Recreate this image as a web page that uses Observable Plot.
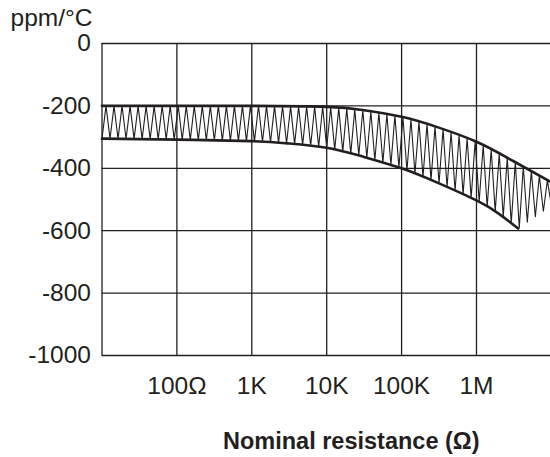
<!DOCTYPE html>
<html>
<head>
<meta charset="utf-8">
<script src="https://cdn.jsdelivr.net/npm/d3@7"></script>
<script src="https://cdn.jsdelivr.net/npm/@observablehq/plot@0.6"></script>
<style>
  html, body { margin: 0; padding: 0; background: #fff; }
  #chart svg { display: block; }
</style>
</head>
<body>
<div id="chart"></div>
<script>
// Tick values and labels
const xTicks = [100, 1e3, 1e4, 1e5, 1e6];
const xTickLabels = ["100Ω", "1K", "10K", "100K", "1M"];
const yTicks = [0, -200, -400, -600, -800, -1000];

// Upper boundary of the TCR band (ohms, ppm/°C)
const upperX = [10, 100, 1e3, 1e4, 3e4, 1e5, 3e5, 1e6, 3e6, 1e7];
const upperY = [-200, -200, -200, -203, -213, -235, -268, -315, -375, -445];

// Lower boundary of the TCR band
const lowerX = [10, 100, 1e3, 3e3, 1e4, 3e4, 1e5, 3e5, 1e6, 2e6, 3.6e6];
const lowerY = [-305, -308, -313, -320, -334, -362, -400, -446, -503, -546, -593];

// Where the hatching's lower tips run after the lower boundary ends
const tailX = [3.6e6, 1e7];
const tailY = [-593, -520];

const ink = "#231f20";
const upper = upperX.map((x, i) => ({x, y: upperY[i]}));
const lower = lowerX.map((x, i) => ({x, y: lowerY[i]}));

// hatch (zig-zag) between the two boundaries, following the read curves
const bottomX = lowerX.concat(tailX.slice(1));
const bottomY = lowerY.concat(tailY.slice(1));
function interpLog(xs, ys, x) {
  const lx = Math.log10(x);
  const L = xs.map(Math.log10);
  if (lx <= L[0]) return ys[0];
  for (let i = 1; i < L.length; i++) {
    if (lx <= L[i]) {
      const t = (lx - L[i - 1]) / (L[i] - L[i - 1]);
      return ys[i - 1] + t * (ys[i] - ys[i - 1]);
    }
  }
  return ys[ys.length - 1];
}
const hatch = [];
const nHalf = 112;
for (let i = 0; i <= nHalf; i++) {
  const x = Math.pow(10, 1 + 6 * i / nHalf);
  const y = i % 2 === 0 ? interpLog(bottomX, bottomY, x) : interpLog(upperX, upperY, x);
  hatch.push({x, y});
}

const chart = Plot.plot({
  width: 550,
  height: 457,
  marginLeft: 101.5,
  marginRight: 0,
  marginTop: 43,
  marginBottom: 102,
  style: {fontFamily: "'Liberation Sans', Arial, Helvetica, sans-serif", fontSize: "24px", color: ink, background: "#fff"},
  x: {type: "log", domain: [10, 9.73e6]},
  y: {domain: [-1000, 0]},
  marks: [
    Plot.ruleX(xTicks, {stroke: ink, strokeWidth: 1.3}),
    Plot.ruleY(yTicks, {stroke: ink, strokeWidth: 1.3}),
    Plot.ruleX([10], {stroke: ink, strokeWidth: 1.3}),
    Plot.line(hatch, {x: "x", y: "y", stroke: ink, strokeWidth: 1.1, curve: "linear"}),
    Plot.line(upper, {x: "x", y: "y", stroke: ink, strokeWidth: 2.6, curve: "natural"}),
    Plot.line(lower, {x: "x", y: "y", stroke: ink, strokeWidth: 2.6, curve: "natural"}),
    Plot.axisX({ticks: xTicks, tickFormat: d => xTickLabels[xTicks.indexOf(d)], tickSize: 0, tickPadding: 21, fontSize: 24.5, label: null}),
    Plot.axisY({ticks: yTicks, tickFormat: d => String(d), tickSize: 0, tickPadding: 11, fontSize: 24.5, label: null}),
    Plot.text(["ppm/°C"], {text: d => d, frameAnchor: "top-left", textAnchor: "start", lineAnchor: "bottom", dx: -91.5, dy: -18, fontSize: 24.5, fill: ink}),
    Plot.text(["Nominal resistance (Ω)"], {text: d => d, frameAnchor: "bottom", textAnchor: "middle", lineAnchor: "bottom", dx: 25, dy: 93, fontSize: 23.5, fontWeight: "bold", fill: ink})
  ]
});
document.getElementById("chart").appendChild(chart);
</script>
</body>
</html>
